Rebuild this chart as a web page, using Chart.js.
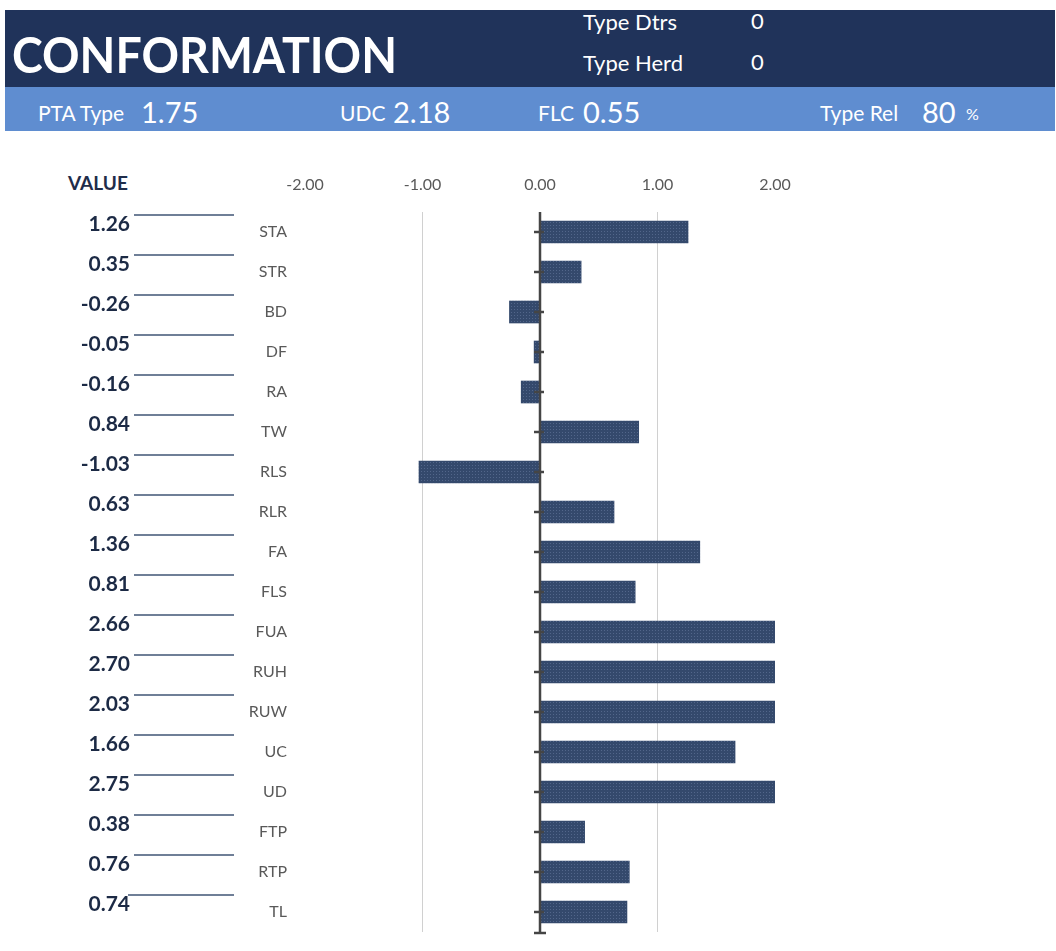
<!DOCTYPE html>
<html>
<head>
<meta charset="utf-8">
<script src="https://cdn.jsdelivr.net/npm/chart.js@4/dist/chart.umd.min.js"></script>
<style>
  body { margin: 0; background: #fff; font-family: Lato, "Open Sans", sans-serif; overflow: hidden; }
  .abs { position: absolute; line-height: 1; white-space: nowrap; color: #fff; }
  #top { position: absolute; left: 5px; top: 10px; width: 1050px; height: 77px; background: #20335a; }
  #sub { position: absolute; left: 5px; top: 87px; width: 1050px; height: 44px; background: #5f8dd0; }
  #confChart { position: absolute; left: 0; top: 140px; }
</style>
</head>
<body>
<div id="top"></div>
<div id="sub"></div>
<div class="abs" style="left:12px;top:29px;font-size:50px;font-weight:bold;transform:scaleX(0.93);transform-origin:left top;">CONFORMATION</div>
<div class="abs" style="left:583px;top:11px;font-size:22px;">Type Dtrs</div>
<div class="abs" style="left:751px;top:10px;font-size:22px;">0</div>
<div class="abs" style="left:583px;top:52px;font-size:22px;">Type Herd</div>
<div class="abs" style="left:751px;top:51px;font-size:22px;">0</div>
<div class="abs" style="left:38px;top:102px;font-size:21px;">PTA Type</div>
<div class="abs" style="left:141px;top:97px;font-size:29px;">1.75</div>
<div class="abs" style="left:340px;top:102px;font-size:21px;">UDC</div>
<div class="abs" style="left:393px;top:97px;font-size:29px;">2.18</div>
<div class="abs" style="left:538px;top:102px;font-size:21px;">FLC</div>
<div class="abs" style="left:583px;top:97px;font-size:29px;">0.55</div>
<div class="abs" style="left:820px;top:102px;font-size:21px;">Type Rel</div>
<div class="abs" style="left:922px;top:97px;font-size:29px;">80</div>
<div class="abs" style="left:966px;top:106px;font-size:16px;">%</div>
<div class="abs" style="left:68px;top:173px;font-size:19px;font-weight:bold;color:#1f2d4a;">VALUE</div>
<canvas id="confChart" width="1056" height="811"></canvas>
<script>
  const traits = ['STA', 'STR', 'BD', 'DF', 'RA', 'TW', 'RLS', 'RLR', 'FA', 'FLS',
                  'FUA', 'RUH', 'RUW', 'UC', 'UD', 'FTP', 'RTP', 'TL'];
  const traitValues = [1.26, 0.35, -0.26, -0.05, -0.16, 0.84, -1.03, 0.63, 1.36, 0.81,
                       2.66, 2.70, 2.03, 1.66, 2.75, 0.38, 0.76, 0.74];
  const xTicks = [-2, -1, 0, 1, 2];

  // grainy fill like the original print
  const tile = document.createElement('canvas');
  tile.width = 3;
  tile.height = 3;
  const tctx = tile.getContext('2d');
  tctx.fillStyle = '#34496c';
  tctx.fillRect(0, 0, 3, 3);
  tctx.fillStyle = '#52668a';
  tctx.fillRect(1, 1, 1, 1);
  const barFill = tctx.createPattern(tile, 'repeat');

  // left hand value column, zero axis tick marks
  const sidePlugin = {
    id: 'side',
    afterDatasetsDraw(chart) {
      const { ctx, scales: { x, y }, chartArea } = chart;
      const x0 = x.getPixelForValue(0);
      ctx.save();
      // zero line
      ctx.strokeStyle = '#454545';
      ctx.lineWidth = 2.5;
      ctx.beginPath();
      ctx.moveTo(x0, chartArea.top);
      ctx.lineTo(x0, chartArea.bottom + 2);
      ctx.stroke();
      traits.forEach((t, i) => {
        const yc = y.getPixelForValue(i);
        ctx.beginPath();
        ctx.moveTo(x0 - 6, yc);
        ctx.lineTo(x0 + 4, yc);
        ctx.stroke();
      });
      ctx.beginPath();
      ctx.moveTo(x0 - 6, chartArea.bottom + 1);
      ctx.lineTo(x0 + 6, chartArea.bottom + 1);
      ctx.stroke();

      ctx.font = 'bold 21px Lato, "Open Sans", sans-serif';
      ctx.textAlign = 'right';
      ctx.textBaseline = 'middle';
      traits.forEach((t, i) => {
        const yc = y.getPixelForValue(i);
        ctx.strokeStyle = '#3f5475';
        ctx.lineWidth = 1.5;
        ctx.beginPath();
        ctx.moveTo(i === traits.length - 1 ? 128 : 134, yc - 17);
        ctx.lineTo(234, yc - 17);
        ctx.stroke();
        ctx.fillStyle = '#1c2a45';
        ctx.fillText(traitValues[i].toFixed(2), 130, yc - 8);
      });
      ctx.restore();
    }
  };

  new Chart(document.getElementById('confChart'), {
    type: 'bar',
    data: {
      labels: traits,
      datasets: [{
        data: traitValues,
        backgroundColor: barFill,
        borderWidth: 0,
        barThickness: 22
      }]
    },
    options: {
      indexAxis: 'y',
      responsive: false,
      animation: false,
      layout: { padding: { left: 0, right: 281, top: 0, bottom: 19 } },
      plugins: { legend: { display: false }, tooltip: { enabled: false } },
      scales: {
        x: {
          position: 'top',
          min: -2,
          max: 2,
          afterBuildTicks: (s) => { s.ticks = xTicks.map(v => ({ value: v })); },
          afterFit: (s) => { s.height = 72; s.paddingLeft = 0; s.paddingRight = 0; },
          border: { display: false },
          grid: {
            drawTicks: false,
            color: (c) => Math.abs(c.tick.value) === 1 ? '#d0d0d0' : 'transparent',
            lineWidth: 1
          },
          ticks: {
            padding: 18,
            color: '#595959',
            font: { family: 'Lato', size: 16 },
            callback: (v) => Number(v).toFixed(2)
          }
        },
        y: {
          afterFit: (s) => { s.width = 305; s.paddingTop = 0; s.paddingBottom = 0; },
          border: { display: false },
          grid: { display: false, drawTicks: false },
          ticks: {
            padding: 18,
            color: '#595959',
            font: { family: 'Lato', size: 16 }
          }
        }
      }
    },
    plugins: [sidePlugin]
  });
</script>
</body>
</html>
